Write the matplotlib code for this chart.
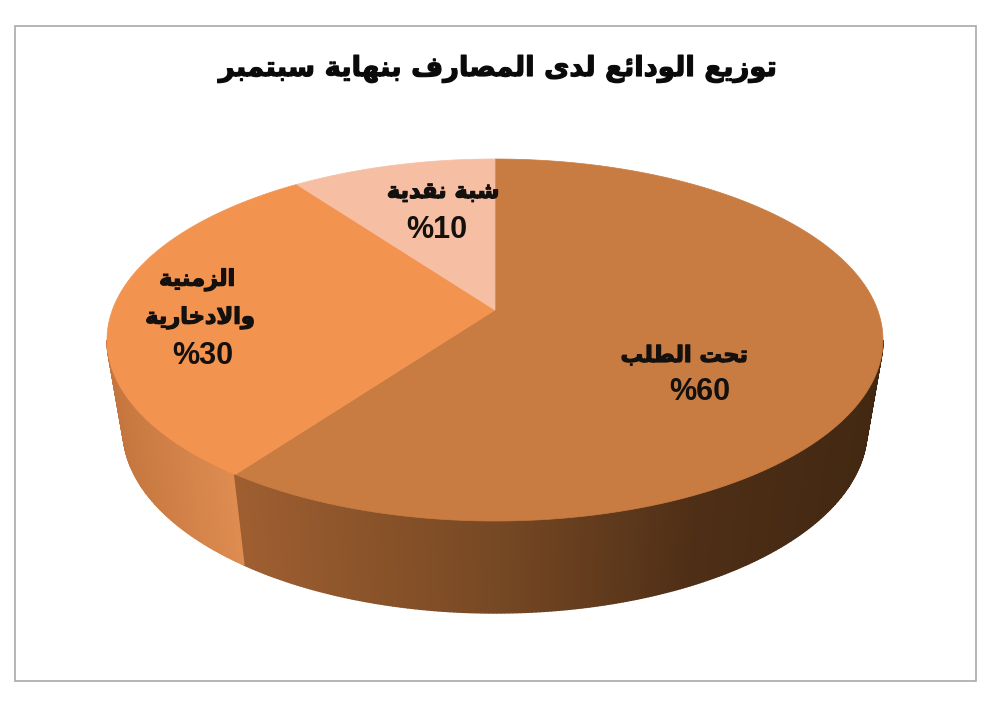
import numpy as np
import matplotlib
matplotlib.use('Agg')
import matplotlib.pyplot as plt
import matplotlib.patheffects as pe
from matplotlib.patches import Rectangle

# data
title = 'توزيع الودائع لدى المصارف بنهاية سبتمبر'
shares = [60, 30, 10]
names = [['تحت الطلب'], ['الزمنية', 'والادخارية'], ['شبة نقدية']]
colors = ['#C97C42', '#F39350', '#F6BFA4']

# arabic shaping, matplotlib has none: (isolated code, number of forms)
forms = {'ئ': (0xFE89, 4), 'ا': (0xFE8D, 2), 'ب': (0xFE8F, 4), 'ة': (0xFE93, 2),
         'ت': (0xFE95, 4), 'ح': (0xFEA1, 4), 'خ': (0xFEA5, 4), 'د': (0xFEA9, 2),
         'ر': (0xFEAD, 2), 'ز': (0xFEAF, 2), 'س': (0xFEB1, 4), 'ش': (0xFEB5, 4),
         'ص': (0xFEB9, 4), 'ط': (0xFEC1, 4), 'ع': (0xFEC9, 4), 'ف': (0xFED1, 4),
         'ق': (0xFED5, 4), 'ل': (0xFEDD, 4), 'م': (0xFEE1, 4), 'ن': (0xFEE5, 4),
         'ه': (0xFEE9, 4), 'و': (0xFEED, 2), 'ى': (0xFEEF, 2), 'ي': (0xFEF1, 4)}


def shape(s):
    out = []
    prev_joins = False
    i = 0
    while i < len(s):
        c = s[i]
        if c not in forms:
            out.append(c)
            prev_joins = False
            i += 1
            continue
        base, n = forms[c]
        if c == 'ل' and i + 1 < len(s) and s[i + 1] == 'ا':
            out.append(chr(0xFEFC if prev_joins else 0xFEFB))
            prev_joins = False
            i += 2
            continue
        nxt = i + 1 < len(s) and s[i + 1] in forms
        if n == 4 and nxt:
            out.append(chr(base + (3 if prev_joins else 2)))
            prev_joins = True
        else:
            out.append(chr(base + (1 if prev_joins else 0)))
            prev_joins = False
        i += 1
    return ''.join(out)[::-1]


fig = plt.figure(figsize=(10, 7.01), dpi=100)
ax = fig.add_axes([0, 0, 1, 1])
ax.set_xlim(0, 1000)
ax.set_ylim(701, 0)
ax.axis('off')

ax.add_patch(Rectangle((15, 26), 961, 655, fill=False, ec='#A9A9A9', lw=1.2))

# pie geometry, pixels
cx, cy, rx, ry = 495, 340, 388, 181
bx, by, brx, bry = 495, 430, 372, 183
a = 30 / ry  # apex sits above the ellipse centre


def rim(theta):
    # clockwise from top, on a unit circle, then perspective shift of the apex
    u, v = np.sin(theta), np.cos(theta)
    d = 1 + a * v
    return u * np.sqrt(1 - a * a) / d, (v + a) / d


def to_top(u, v):
    return cx + rx * u, cy - ry * v


def to_bottom(u, v):
    return bx + brx * u, by - bry * v


edges = np.cumsum([0] + shares) / sum(shares) * 2 * np.pi
seam = edges[1]
apex = to_top(0, a)

# side wall, strips coloured across x
wall_x = [107, 240, 241, 500, 700, 883]
wall_r = [196, 224, 158, 118, 78, 66]
wall_g = [118, 142, 94, 72, 46, 40]
wall_b = [62, 82, 48, 36, 22, 18]
start = rim(seam)
t0 = np.arctan2(start[0], start[1]) % (2 * np.pi)
ts = np.linspace(np.pi / 2, 3 * np.pi / 2, 300)  # ellipse parameter, right to left
for t1, t2 in zip(ts[:-1], ts[1:]):
    u1, v1, u2, v2 = np.sin(t1), np.cos(t1), np.sin(t2), np.cos(t2)
    xt1, yt1 = to_top(u1, v1)
    xt2, yt2 = to_top(u2, v2)
    xb1, yb1 = to_bottom(u1, v1)
    xb2, yb2 = to_bottom(u2, v2)
    xm = (xt1 + xt2) / 2
    if t1 >= t0:  # left of the seam belongs to the 30 slice
        c = [np.interp(xm, wall_x[:2], wall_r[:2]), np.interp(xm, wall_x[:2], wall_g[:2]),
             np.interp(xm, wall_x[:2], wall_b[:2])]
    else:
        c = [np.interp(xm, wall_x[2:], wall_r[2:]), np.interp(xm, wall_x[2:], wall_g[2:]),
             np.interp(xm, wall_x[2:], wall_b[2:])]
    c = np.array(c) / 255
    ax.fill([xt1, xt2, xb2, xb1], [yt1, yt2, yb2, yb1], color=c, lw=1.0, zorder=2)

# top face
for i in range(len(shares)):
    th = np.linspace(edges[i], edges[i + 1], 200)
    u, v = rim(th)
    x, y = to_top(u, v)
    ax.fill(np.r_[apex[0], x], np.r_[apex[1], y], color=colors[i], lw=0.5, zorder=3)

# text
arab = ['DejaVu Sans']
num = ['Liberation Sans', 'DejaVu Sans']
fx = [pe.withStroke(linewidth=0.9, foreground='#111111')]
ax.text(498, 69, shape(title), family=arab, weight='bold', fontsize=19.8, color='#0A0A0A',
        ha='center', va='center', zorder=5, path_effects=fx)

name_pos = [[(684, 356)], [(197, 280), (200, 318)], [(443, 192)]]
pct_pos = [(700, 392), (203, 356), (437, 230)]
for i in range(len(shares)):
    for line, p in zip(names[i], name_pos[i]):
        ax.text(p[0], p[1], shape(line), family=arab, weight='bold', fontsize=16.2, color='#14100E',
                ha='center', va='center', zorder=5, path_effects=fx)
    ax.text(pct_pos[i][0], pct_pos[i][1], '%' + str(shares[i]), family=num, weight='bold', fontsize=22,
            color='#14100E', ha='center', va='center', zorder=5)

fig.savefig('out.png', dpi=100)
